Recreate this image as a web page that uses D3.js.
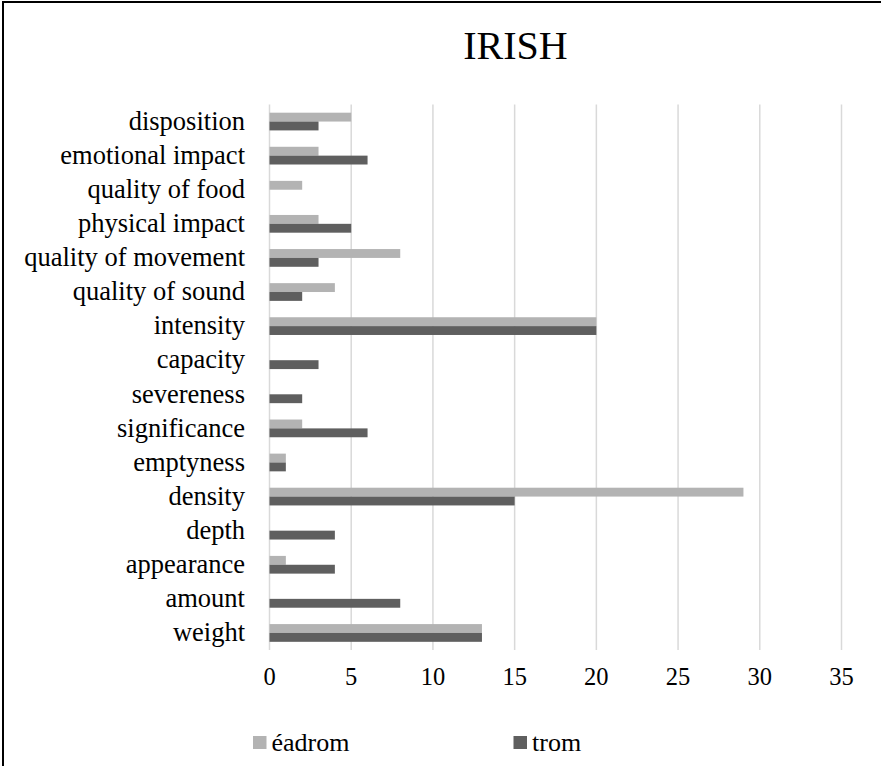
<!DOCTYPE html>
<html>
<head>
<meta charset="utf-8">
<script src="https://cdn.jsdelivr.net/npm/d3@7"></script>
<style>
  html, body { margin: 0; padding: 0; background: #fff; }
  svg { display: block; }
  text { font-family: "Liberation Serif", "Times New Roman", serif; fill: #000; }
</style>
</head>
<body>
<svg id="chart" width="881" height="766"></svg>
<script>
// Categories listed top to bottom
const categories = [
  "disposition", "emotional impact", "quality of food", "physical impact",
  "quality of movement", "quality of sound", "intensity", "capacity",
  "severeness", "significance", "emptyness", "density", "depth",
  "appearance", "amount", "weight"
];
const seriesNames = ["éadrom", "trom"];
const eadromValues = [5, 3, 2, 3, 8, 4, 20, 0, 0, 2, 1, 29, 0, 1, 0, 13];
const tromValues   = [3, 6, 0, 5, 3, 2, 20, 3, 2, 6, 1, 15, 4, 4, 8, 13];
const xTicks = [0, 5, 10, 15, 20, 25, 30, 35];
const seriesColors = ["#b3b3b3", "#5f5f5f"];
const title = "IRISH";

const svg = d3.select("#chart");

// Outer frame
svg.append("rect")
  .attr("x", 3).attr("y", 2)
  .attr("width", 950).attr("height", 850)
  .attr("fill", "none").attr("stroke", "#000").attr("stroke-width", 2);

const x = d3.scaleLinear().domain([0, 35]).range([269.5, 841.5]);
const y = d3.scaleBand().domain(categories).range([104.5, 650])
  .paddingInner(0.48).paddingOuter(0.24);
const ySub = d3.scaleBand().domain(seriesNames).range([0, y.bandwidth()]);

// Vertical gridlines
svg.append("g").selectAll("line").data(xTicks).join("line")
  .attr("x1", d => x(d)).attr("x2", d => x(d))
  .attr("y1", 104.5).attr("y2", 650)
  .attr("stroke", "#d9d9d9").attr("stroke-width", 1.5);

// Bars
const rows = categories.map((c, i) => ({ cat: c, vals: [eadromValues[i], tromValues[i]] }));
const groups = svg.append("g").selectAll("g").data(rows).join("g")
  .attr("transform", d => `translate(0,${y(d.cat)})`);
groups.selectAll("rect")
  .data(d => d.vals.map((v, j) => ({ v, s: seriesNames[j], j })))
  .join("rect")
  .attr("x", x(0))
  .attr("y", d => ySub(d.s))
  .attr("width", d => x(d.v) - x(0))
  .attr("height", ySub.bandwidth())
  .attr("fill", d => seriesColors[d.j]);

// Category labels
svg.append("g").selectAll("text").data(categories).join("text")
  .attr("x", 245)
  .attr("y", d => y(d) + y.bandwidth() / 2)
  .attr("dy", "0.31em")
  .attr("text-anchor", "end")
  .style("font-size", "26.5px")
  .text(d => d);

// X tick labels
svg.append("g").selectAll("text").data(xTicks).join("text")
  .attr("x", d => x(d))
  .attr("y", 685)
  .attr("text-anchor", "middle")
  .style("font-size", "24.5px")
  .text(d => d);

// Title
svg.append("text")
  .attr("x", 515.5).attr("y", 58.5)
  .attr("text-anchor", "middle")
  .style("font-size", "40px")
  .text(title);

// Legend
const legendX = [253, 513.5];
const legend = svg.append("g").selectAll("g").data(seriesNames).join("g")
  .attr("transform", (d, i) => `translate(${legendX[i]},0)`);
legend.append("rect")
  .attr("x", 0).attr("y", 736).attr("width", 13.5).attr("height", 13)
  .attr("fill", (d, i) => seriesColors[i]);
legend.append("text")
  .attr("x", 18.5).attr("y", 750.5)
  .style("font-size", "26px")
  .text(d => d);
</script>
</body>
</html>
